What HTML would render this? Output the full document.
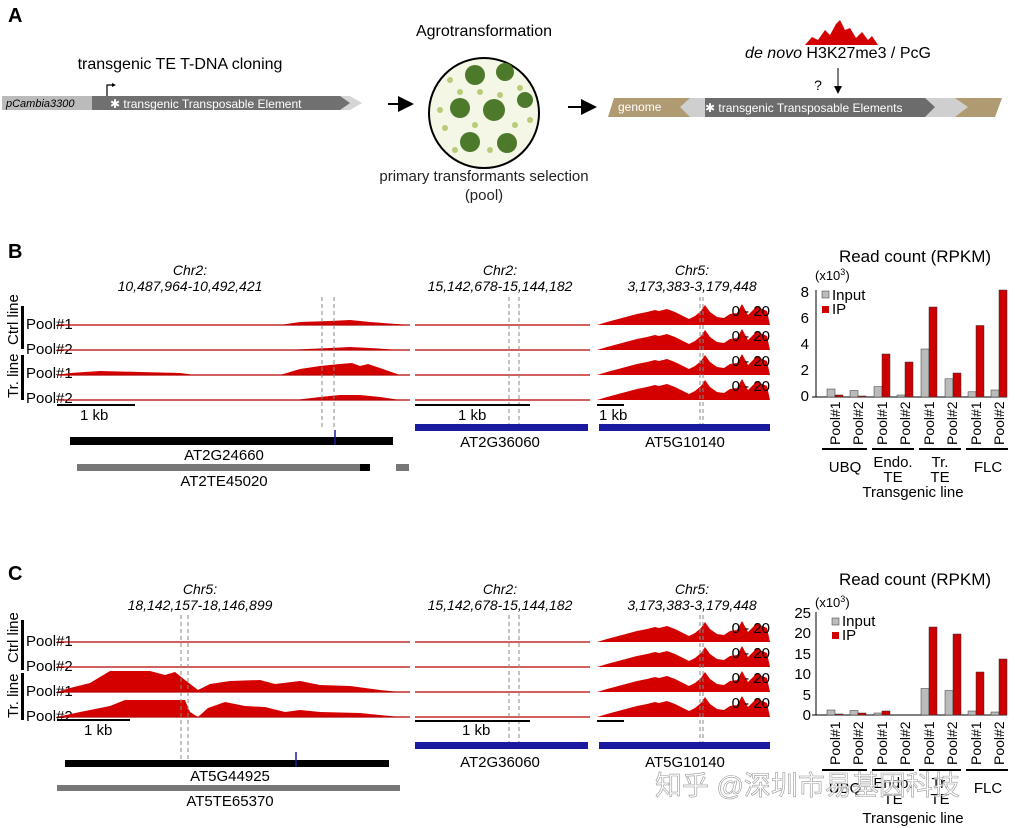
<!DOCTYPE html>
<html><head><meta charset="utf-8"><style>
body{margin:0;background:#fff}
svg{display:block;font-family:"Liberation Sans",Arial,sans-serif}
</style></head><body>
<svg width="1015" height="828" viewBox="0 0 1015 828" xmlns="http://www.w3.org/2000/svg">
<defs>
<path id="rp" d="M0,0 L10,-3 L25,-7 L40,-11 L50,-13 L58,-15 L62,-14 L70,-16 L78,-13 L86,-9 L92,-6 L98,-9 L104,-14 L108,-20 L113,-13 L120,-8 L127,-7 L133,-11 L140,-12 L145,-21 L151,-10 L156,-15 L160,-19 L165,-16 L170,-14 L173,0 Z" fill="#d40000"/>
<marker id="ah" markerWidth="8" markerHeight="8" refX="6" refY="4" orient="auto"><path d="M0,0 L8,4 L0,8 Z" fill="#000"/></marker>
</defs>
<!-- Panel A -->
<text x="8" y="22" font-size="20" font-weight="bold">A</text>
<text x="180" y="69" font-size="16" text-anchor="middle">transgenic TE T-DNA cloning</text>
<path d="M2,96 L100,96 L100,110 L2,110 Z" fill="#bbb"/>
<path d="M92,96 L350,96 L362,103 L350,110 L92,110 Z" fill="#d5d5d5"/>
<path d="M92,96 L340,96 L350,103 L340,110 L92,110 Z" fill="#707070"/>
<text x="6" y="107" font-size="11" font-style="italic">pCambia3300</text>
<text x="110" y="108" font-size="12" fill="#fff">✱ transgenic Transposable Element</text>
<path d="M107,96 L107,85 L114,85" stroke="#000" fill="none" stroke-width="1.2"/>
<path d="M112,83 L116,85 L112,87" fill="#000"/>
<line x1="388" y1="104" x2="410" y2="104" stroke="#000" stroke-width="2" marker-end="url(#ah)"/>
<text x="484" y="36" font-size="16" text-anchor="middle">Agrotransformation</text>
<circle cx="484" cy="113" r="55" fill="#f4f6e6" stroke="#000" stroke-width="2"/>
<g fill="#b8cc78">
<circle cx="450" cy="80" r="3"/><circle cx="460" cy="92" r="3"/><circle cx="520" cy="88" r="3"/><circle cx="445" cy="128" r="3"/><circle cx="480" cy="92" r="3"/><circle cx="515" cy="125" r="3"/><circle cx="490" cy="150" r="3"/><circle cx="455" cy="150" r="3"/><circle cx="530" cy="120" r="3"/><circle cx="475" cy="125" r="3"/><circle cx="500" cy="95" r="3"/><circle cx="440" cy="110" r="3"/>
</g>
<g fill="#4d7a2a">
<circle cx="475" cy="75" r="10"/><circle cx="505" cy="72" r="9"/><circle cx="460" cy="108" r="10"/><circle cx="494" cy="110" r="11"/><circle cx="525" cy="100" r="8"/><circle cx="470" cy="142" r="10"/><circle cx="507" cy="143" r="10"/>
</g>
<text x="484" y="181" font-size="15" text-anchor="middle" fill="#222">primary transformants selection</text>
<text x="484" y="200" font-size="15" text-anchor="middle" fill="#222">(pool)</text>
<line x1="568" y1="107" x2="593" y2="107" stroke="#000" stroke-width="2" marker-end="url(#ah)"/>
<path d="M614,98 L1002,98 L995,117 L608,117 Z" fill="#b09a72"/>
<path d="M690,98 L955,98 L968,107 L955,117 L690,117 L680,107 Z" fill="#cfcfcf"/>
<path d="M705,98 L925,98 L935,107 L925,117 L705,117 Z" fill="#6c6c6c"/>
<text x="618" y="111" font-size="12" fill="#fff">genome</text>
<text x="705" y="112" font-size="12" fill="#fff">✱ transgenic Transposable Elements</text>
<path d="M805,45 L812,37 L818,40 L825,30 L830,35 L836,24 L840,20 L845,30 L850,28 L856,38 L862,32 L868,40 L872,36 L878,45 Z" fill="#d40000"/>
<text x="838" y="58" font-size="16" text-anchor="middle"><tspan font-style="italic">de novo</tspan> H3K27me3 / PcG</text>
<text x="818" y="90" font-size="14" text-anchor="middle">?</text>
<line x1="838" y1="68" x2="838" y2="92" stroke="#000" stroke-width="1" marker-end="url(#ah)"/>

<!-- Panel B -->
<text x="8" y="258" font-size="20" font-weight="bold">B</text>
<g font-size="14" font-style="italic" text-anchor="middle">
<text x="190" y="275">Chr2:</text><text x="190" y="291">10,487,964-10,492,421</text>
<text x="500" y="275">Chr2:</text><text x="500" y="291">15,142,678-15,144,182</text>
<text x="692" y="275">Chr5:</text><text x="692" y="291">3,173,383-3,179,448</text>
</g>
<g font-size="15">
<text x="26" y="329">Pool#1</text><text x="26" y="354">Pool#2</text><text x="26" y="378">Pool#1</text><text x="26" y="403">Pool#2</text>
<text transform="translate(18,345) rotate(-90)">Ctrl line</text>
<text transform="translate(18,398) rotate(-90)">Tr. line</text>
</g>
<rect x="21" y="306" width="3" height="43" fill="#000"/><rect x="21" y="355" width="3" height="45" fill="#000"/>
<g fill="#d40000">
<path d="M280,325 L300,322 L330,321 L350,320 L370,322 L410,325 Z"/>
<path d="M285,350 L330,348 L350,347 L370,348 L400,350 Z"/>
<path d="M57,375 L70,373 L100,371 L140,372 L180,373 L195,375 Z M280,375 L300,369 L320,366 L340,364 L352,363 L360,366 L368,364 L380,368 L400,375 Z"/>
<path d="M295,400 L320,397 L340,395 L360,395 L380,397 L400,400 Z"/>
</g>
<g stroke="#b80000" stroke-width="1.2">
<line x1="57" y1="325" x2="410" y2="325"/><line x1="57" y1="350" x2="410" y2="350"/><line x1="57" y1="375" x2="410" y2="375"/><line x1="57" y1="400" x2="410" y2="400"/>
<line x1="415" y1="325" x2="590" y2="325"/><line x1="415" y1="350" x2="590" y2="350"/><line x1="415" y1="375" x2="590" y2="375"/><line x1="415" y1="400" x2="590" y2="400"/>
</g>
<use href="#rp" x="597" y="325"/><use href="#rp" x="597" y="350"/><use href="#rp" x="597" y="375"/><use href="#rp" x="597" y="400"/>
<g font-size="15" text-anchor="end"><text x="770" y="316">0 - 20</text><text x="770" y="341">0 - 20</text><text x="770" y="366">0 - 20</text><text x="770" y="391">0 - 20</text></g>
<g stroke="#888" stroke-dasharray="4,3" stroke-width="1">
<line x1="322" y1="297" x2="322" y2="428"/><line x1="334" y1="297" x2="334" y2="428"/>
<line x1="509" y1="297" x2="509" y2="428"/><line x1="519" y1="297" x2="519" y2="428"/>
<line x1="700" y1="297" x2="700" y2="428"/><line x1="703" y1="297" x2="703" y2="428"/>
</g>
<g stroke="#000" stroke-width="2"><line x1="57" y1="405" x2="135" y2="405"/><line x1="415" y1="405" x2="530" y2="405"/><line x1="597" y1="405" x2="624" y2="405"/></g>
<g font-size="15"><text x="80" y="420">1 kb</text><text x="458" y="420">1 kb</text><text x="599" y="420">1 kb</text></g>
<rect x="70" y="437" width="323" height="8" fill="#000"/>
<line x1="335" y1="430" x2="335" y2="445" stroke="#1a1aa0" stroke-width="1.5"/>
<rect x="77" y="464" width="293" height="7" fill="#777"/><rect x="360" y="464" width="10" height="7" fill="#000"/><rect x="396" y="464" width="13" height="7" fill="#777"/>
<rect x="415" y="424" width="173" height="7" fill="#1a1aa0"/><rect x="599" y="424" width="171" height="7" fill="#1a1aa0"/>
<g font-size="15" text-anchor="middle"><text x="224" y="460">AT2G24660</text><text x="224" y="486">AT2TE45020</text><text x="500" y="447">AT2G36060</text><text x="685" y="447">AT5G10140</text></g>

<!-- Chart B -->
<text x="915" y="262" font-size="17" text-anchor="middle">Read count (RPKM)</text>
<text x="815" y="280" font-size="13">(x10<tspan font-size="9" dy="-5">3</tspan><tspan dy="5">)</tspan></text>
<g font-size="15" text-anchor="end"><text x="809" y="297">8</text><text x="809" y="323">6</text><text x="809" y="349">4</text><text x="809" y="375">2</text><text x="809" y="401">0</text></g>
<line x1="816" y1="290" x2="816" y2="397" stroke="#000"/><line x1="812" y1="397" x2="1007" y2="397" stroke="#000"/>
<rect x="822" y="291" width="7" height="7" fill="#bbb" stroke="#333" stroke-width=".5"/><rect x="822" y="306" width="7" height="7" fill="#c00"/>
<text x="832" y="300" font-size="15">Input</text><text x="832" y="314" font-size="15">IP</text>
<g stroke="#333" stroke-width=".5">
<rect x="827" y="389" width="8" height="8" fill="#bbb"/><rect x="835" y="395" width="8" height="2" fill="#c00"/>
<rect x="850" y="390.5" width="8" height="6.5" fill="#bbb"/><rect x="858" y="396" width="8" height="1" fill="#c00"/>
<rect x="874" y="386.6" width="8" height="10.4" fill="#bbb"/><rect x="882" y="354" width="8" height="43" fill="#c00"/>
<rect x="897" y="395" width="8" height="2" fill="#bbb"/><rect x="905" y="362" width="8" height="35" fill="#c00"/>
<rect x="921" y="349" width="8" height="48" fill="#bbb"/><rect x="929" y="307" width="8" height="90" fill="#c00"/>
<rect x="945" y="378.8" width="8" height="18.2" fill="#bbb"/><rect x="953" y="373" width="8" height="24" fill="#c00"/>
<rect x="968" y="391.8" width="8" height="5.2" fill="#bbb"/><rect x="976" y="325.5" width="8" height="71.5" fill="#c00"/>
<rect x="991" y="390" width="8" height="7" fill="#bbb"/><rect x="999" y="290" width="8" height="107" fill="#c00"/>
</g>
<g font-size="14">
<text transform="translate(840,445) rotate(-90)">Pool#1</text><text transform="translate(863,445) rotate(-90)">Pool#2</text>
<text transform="translate(887,445) rotate(-90)">Pool#1</text><text transform="translate(910,445) rotate(-90)">Pool#2</text>
<text transform="translate(934,445) rotate(-90)">Pool#1</text><text transform="translate(957,445) rotate(-90)">Pool#2</text>
<text transform="translate(981,445) rotate(-90)">Pool#1</text><text transform="translate(1004,445) rotate(-90)">Pool#2</text>
</g>
<g stroke="#000" stroke-width="2"><line x1="822" y1="449" x2="867" y2="449"/><line x1="872" y1="449" x2="914" y2="449"/><line x1="919" y1="449" x2="961" y2="449"/><line x1="966" y1="449" x2="1008" y2="449"/></g>
<g font-size="15" text-anchor="middle"><text x="845" y="472">UBQ</text><text x="893" y="467">Endo.</text><text x="893" y="482">TE</text><text x="940" y="467">Tr.</text><text x="940" y="482">TE</text><text x="988" y="472">FLC</text><text x="913" y="497">Transgenic line</text></g>

<!-- Panel C -->
<text x="8" y="580" font-size="20" font-weight="bold">C</text>
<g font-size="14" font-style="italic" text-anchor="middle">
<text x="200" y="594">Chr5:</text><text x="200" y="610">18,142,157-18,146,899</text>
<text x="500" y="594">Chr2:</text><text x="500" y="610">15,142,678-15,144,182</text>
<text x="692" y="594">Chr5:</text><text x="692" y="610">3,173,383-3,179,448</text>
</g>
<g font-size="15">
<text x="26" y="646">Pool#1</text><text x="26" y="671">Pool#2</text><text x="26" y="696">Pool#1</text><text x="26" y="721">Pool#2</text>
<text transform="translate(18,663) rotate(-90)">Ctrl line</text>
<text transform="translate(18,718) rotate(-90)">Tr. line</text>
</g>
<rect x="21" y="620" width="3" height="50" fill="#000"/><rect x="21" y="673" width="3" height="47" fill="#000"/>
<g fill="#d40000">
<path d="M57,692 L70,688 L90,683 L110,671 L150,671 L165,675 L175,672 L185,680 L198,690 L210,684 L230,681 L260,680 L275,684 L300,681 L320,685 L350,686 L380,690 L400,692 Z"/>
<path d="M57,717 L80,712 L110,706 L125,700 L185,700 L190,712 L198,717 L208,708 L225,702 L245,706 L265,707 L285,712 L300,710 L320,712 L360,713 L400,717 Z"/>
</g>
<g stroke="#b80000" stroke-width="1.2">
<line x1="57" y1="642" x2="410" y2="642"/><line x1="57" y1="667" x2="410" y2="667"/><line x1="57" y1="692" x2="410" y2="692"/><line x1="57" y1="717" x2="410" y2="717"/>
<line x1="415" y1="642" x2="590" y2="642"/><line x1="415" y1="667" x2="590" y2="667"/><line x1="415" y1="692" x2="590" y2="692"/><line x1="415" y1="717" x2="590" y2="717"/>
</g>
<use href="#rp" x="597" y="642"/><use href="#rp" x="597" y="667"/><use href="#rp" x="597" y="692"/><use href="#rp" x="597" y="717"/>
<g font-size="15" text-anchor="end"><text x="770" y="633">0 - 20</text><text x="770" y="658">0 - 20</text><text x="770" y="683">0 - 20</text><text x="770" y="708">0 - 20</text></g>
<g stroke="#888" stroke-dasharray="4,3" stroke-width="1">
<line x1="181" y1="615" x2="181" y2="765"/><line x1="188" y1="615" x2="188" y2="765"/>
<line x1="509" y1="615" x2="509" y2="745"/><line x1="519" y1="615" x2="519" y2="745"/>
<line x1="700" y1="615" x2="700" y2="745"/><line x1="703" y1="615" x2="703" y2="745"/>
</g>
<g stroke="#000" stroke-width="2"><line x1="57" y1="720" x2="130" y2="720"/><line x1="415" y1="721" x2="530" y2="721"/><line x1="597" y1="721" x2="624" y2="721"/></g>
<g font-size="15"><text x="84" y="735">1 kb</text><text x="462" y="735">1 kb</text></g>
<rect x="65" y="760" width="324" height="7" fill="#000"/>
<line x1="296" y1="752" x2="296" y2="767" stroke="#1a1aa0" stroke-width="1.5"/>
<rect x="57" y="785" width="343" height="6" fill="#777"/>
<rect x="415" y="742" width="173" height="7" fill="#1a1aa0"/><rect x="599" y="742" width="171" height="7" fill="#1a1aa0"/>
<g font-size="15" text-anchor="middle"><text x="230" y="781">AT5G44925</text><text x="230" y="806">AT5TE65370</text><text x="500" y="767">AT2G36060</text><text x="685" y="767">AT5G10140</text></g>

<!-- Chart C -->
<text x="915" y="585" font-size="17" text-anchor="middle">Read count (RPKM)</text>
<text x="815" y="607" font-size="13">(x10<tspan font-size="9" dy="-5">3</tspan><tspan dy="5">)</tspan></text>
<g font-size="15" text-anchor="end"><text x="811" y="618">25</text><text x="811" y="638">20</text><text x="811" y="659">15</text><text x="811" y="679">10</text><text x="811" y="700">5</text><text x="811" y="720">0</text></g>
<line x1="816" y1="612" x2="816" y2="715" stroke="#000"/><line x1="812" y1="715" x2="1007" y2="715" stroke="#000"/>
<rect x="832" y="618" width="7" height="7" fill="#bbb" stroke="#333" stroke-width=".5"/><rect x="832" y="632" width="7" height="7" fill="#c00"/>
<text x="842" y="626" font-size="15">Input</text><text x="842" y="640" font-size="15">IP</text>
<g stroke="#333" stroke-width=".5">
<rect x="827" y="710" width="8" height="5" fill="#bbb"/><rect x="835" y="714" width="8" height="1" fill="#c00"/>
<rect x="850" y="710.5" width="8" height="4.5" fill="#bbb"/><rect x="858" y="713" width="8" height="2" fill="#c00"/>
<rect x="874" y="713" width="8" height="2" fill="#bbb"/><rect x="882" y="711" width="8" height="4" fill="#c00"/>
<rect x="921" y="688.5" width="8" height="26.5" fill="#bbb"/><rect x="929" y="627" width="8" height="88" fill="#c00"/>
<rect x="945" y="690.5" width="8" height="24.5" fill="#bbb"/><rect x="953" y="634" width="8" height="81" fill="#c00"/>
<rect x="968" y="711" width="8" height="4" fill="#bbb"/><rect x="976" y="672" width="8" height="43" fill="#c00"/>
<rect x="991" y="712" width="8" height="3" fill="#bbb"/><rect x="999" y="659" width="8" height="56" fill="#c00"/>
</g>
<g font-size="14">
<text transform="translate(840,765) rotate(-90)">Pool#1</text><text transform="translate(863,765) rotate(-90)">Pool#2</text>
<text transform="translate(887,765) rotate(-90)">Pool#1</text><text transform="translate(910,765) rotate(-90)">Pool#2</text>
<text transform="translate(934,765) rotate(-90)">Pool#1</text><text transform="translate(957,765) rotate(-90)">Pool#2</text>
<text transform="translate(981,765) rotate(-90)">Pool#1</text><text transform="translate(1004,765) rotate(-90)">Pool#2</text>
</g>
<g stroke="#000" stroke-width="2"><line x1="822" y1="770" x2="867" y2="770"/><line x1="872" y1="770" x2="914" y2="770"/><line x1="919" y1="770" x2="961" y2="770"/><line x1="966" y1="770" x2="1008" y2="770"/></g>
<g font-size="15" text-anchor="middle"><text x="845" y="793">UBQ</text><text x="893" y="788">Endo.</text><text x="893" y="804">TE</text><text x="940" y="788">Tr.</text><text x="940" y="804">TE</text><text x="988" y="793">FLC</text><text x="913" y="823">Transgenic line</text></g>
<text x="655" y="795" font-size="27" fill="#fff" fill-opacity="0.75" stroke="#999" stroke-width="0.6" font-family="'Liberation Sans','Noto Sans CJK SC',sans-serif">知乎 @深圳市易基因科技</text>
</svg>
</body></html>
